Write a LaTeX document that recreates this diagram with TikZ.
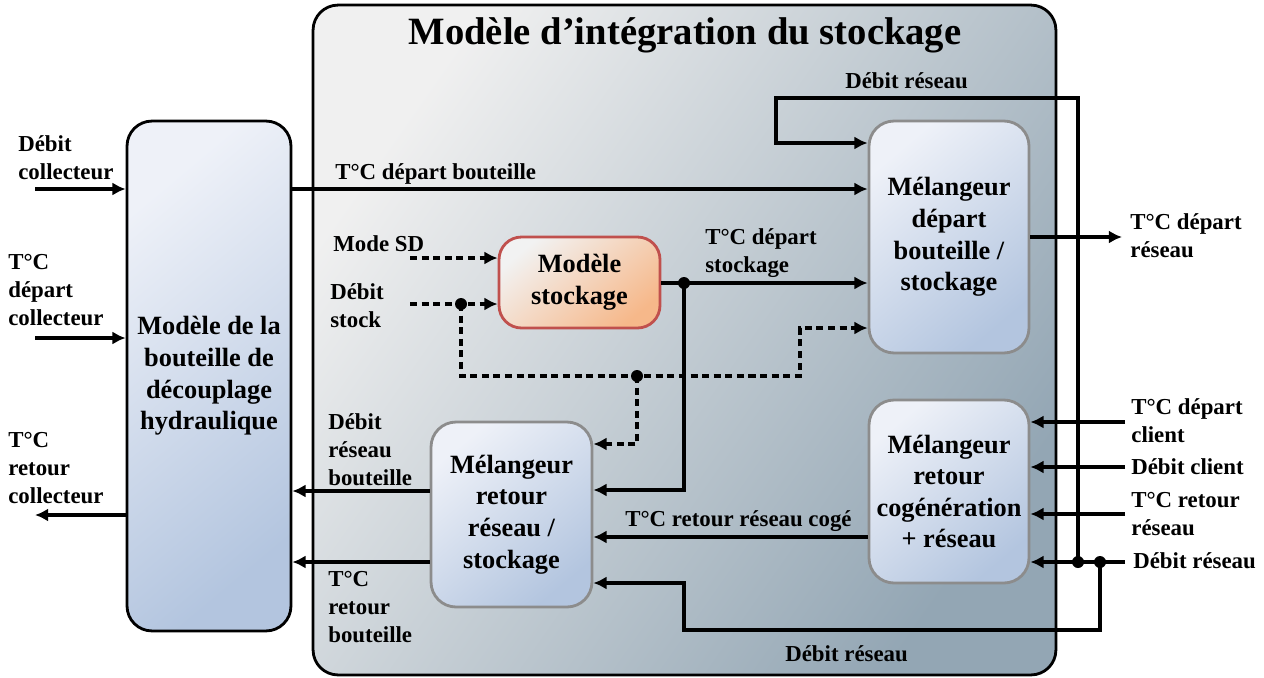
\documentclass[tikz,border=0pt]{standalone}
\usepackage{fontspec}
\setmainfont{Liberation Serif}
\usepackage{tikz}
\usetikzlibrary{arrows.meta}

\definecolor{outerlight}{HTML}{F0F0F0}
\definecolor{outerdark}{HTML}{93A6B4}
\definecolor{boxlight}{HTML}{EEF1F8}
\definecolor{boxblue}{HTML}{B3C5DF}
\definecolor{boxgray}{HTML}{8C8C8C}
\definecolor{stocklight}{HTML}{F2F2F2}
\definecolor{stockorange}{HTML}{F6B88A}
\definecolor{stockred}{HTML}{C0504D}

\begin{document}
\begin{tikzpicture}[
    x=0.02cm, y=-0.02cm,
    font=\bfseries\fontsize{13}{16}\selectfont,
    outerbox/.style={draw, line width=1.6pt, rounded corners=0.5cm, top color=outerlight, bottom color=outerdark, shading angle=55, minimum width=14.86cm, minimum height=13.4cm},
    block/.style={draw=boxgray, line width=1.6pt, rounded corners=0.5cm, align=center, inner sep=1pt, top color=boxlight, bottom color=boxblue, shading angle=40, minimum width=3.2cm, font=\bfseries\fontsize{15}{18}\selectfont},
    bigblock/.style={block, draw=black, minimum width=3.28cm, minimum height=10.2cm},
    stockblock/.style={block, draw=stockred, top color=stocklight, bottom color=stockorange, shading angle=40, rounded corners=0.45cm, minimum width=3.22cm, minimum height=1.82cm},
    lbl/.style={anchor=west, align=left, inner sep=0pt},
    flow/.style={-{Latex[length=7.5pt, width=7.5pt]}, line width=1.8pt},
    dashflow/.style={flow, dash pattern=on 4pt off 2.6pt},
    junction/.style={circle, fill, inner sep=0pt, minimum size=0.24cm}
]
\useasboundingbox (0,0) rectangle (1264,677);

% cadre du modele
\node[outerbox] (integ) at (684.5,340) {};
\node[font=\bfseries\fontsize{22}{26}\selectfont] (title) at (685,35) {Modèle d’intégration du stockage};

% blocs
\node[bigblock] (bout) at (209,376) {Modèle de la\\bouteille de\\découplage\\hydraulique};
\node[stockblock] (stock) at (579.5,282.5) {Modèle\\stockage};
\node[block, minimum height=4.64cm] (mdep) at (949,237) {Mélangeur\\départ\\bouteille /\\stockage};
\node[block, minimum height=3.66cm] (mcog) at (949,491.5) {Mélangeur\\retour\\cogénération\\+ réseau};
\node[block, minimum width=3.22cm, minimum height=3.7cm] (mret) at (511.5,514.5) {Mélangeur\\retour\\réseau /\\stockage};

% extremites libres
\coordinate (dcol) at (35,189);
\coordinate (tdcol) at (35,338);
\coordinate (trcol) at (35,515);
\coordinate (tdres) at (1122,237);
\coordinate (msd) at (410,258);
\coordinate (dstk) at (410,304);
\coordinate (tdcli) at (1125,422);
\coordinate (dcli) at (1125,467);
\coordinate (trres) at (1125,514);
\coordinate (dres) at (1125,562);

% points de jonction
\node[junction] (j1) at (461,304) {};
\node[junction] (j2) at (637,376) {};
\node[junction] (j3) at (684,283) {};
\node[junction] (j4) at (1078,562) {};
\node[junction] (j5) at (1100,562) {};

% liaisons
\draw[flow] (dcol) -- (bout.west |- dcol);
\draw[flow] (tdcol) -- (bout.west |- tdcol);
\draw[flow] (bout.west |- trcol) -- (trcol);
\draw[flow] (bout.east |- 0,189) -- (mdep.west |- 0,189);
\draw[flow] (j4.center) -- (1078,98) -| (776,143) -- (mdep.west |- 0,143);
\draw[flow] (mdep.east |- tdres) -- (tdres);
\draw[dashflow] (msd) -- (stock.west |- msd);
\draw[dashflow] (dstk) -- (stock.west |- dstk);
\draw[dashflow] (j1.center) |- (800,376) |- (mdep.west |- 0,328);
\draw[dashflow] (j2.center) |- (mret.east |- 0,444);
\draw[flow] (stock.east |- j3) -- (mdep.west |- j3);
\draw[flow] (j3.center) |- (mret.east |- 0,490);
\draw[flow] (mret.west |- 0,491) -- (bout.east |- 0,491);
\draw[flow] (mret.west |- 0,562) -- (bout.east |- 0,562);
\draw[flow] (mcog.west |- 0,537) -- (mret.east |- 0,537);
\draw[flow] (j5.center) -- (1100,630) -| (684,583) -- (mret.east |- 0,583);
\draw[flow] (tdcli) -- (mcog.east |- tdcli);
\draw[flow] (dcli) -- (mcog.east |- dcli);
\draw[flow] (trres) -- (mcog.east |- trres);
\draw[flow] (dres) -- (mcog.east |- dres);

% etiquettes
\node[lbl] (ldcol) at (18,157.5) {Débit\\collecteur};
\node[lbl] (ltdcol) at (8,290) {T°C\\départ\\collecteur};
\node[lbl] (ltrcol) at (8,468) {T°C\\retour\\collecteur};
\node[lbl] (ltdb) at (335,174) {T°C départ bouteille};
\node[lbl] (ldrh) at (845,81) {Débit réseau};
\node[lbl] (ltdres) at (1130,236) {T°C départ\\réseau};
\node[lbl] (lmsd) at (333,244) {Mode SD};
\node[lbl] (ldstk) at (330,306) {Débit\\stock};
\node[lbl] (ltds) at (705,253) {T°C départ\\stockage};
\node[lbl] (ldrb) at (328,450) {Débit\\réseau\\bouteille};
\node[lbl] (ltrb) at (328,607) {T°C\\retour\\bouteille};
\node[lbl] (ltrc) at (625,521) {T°C retour réseau cogé};
\node[lbl] (ldrbas) at (785,654) {Débit réseau};
\node[lbl] (ltdcli) at (1131,421) {T°C départ\\client};
\node[lbl] (ldcli) at (1131,467) {Débit client};
\node[lbl] (ltrres) at (1131,514) {T°C retour\\réseau};
\node[lbl] (ldres) at (1133,561) {Débit réseau};
\end{tikzpicture}
\end{document}
